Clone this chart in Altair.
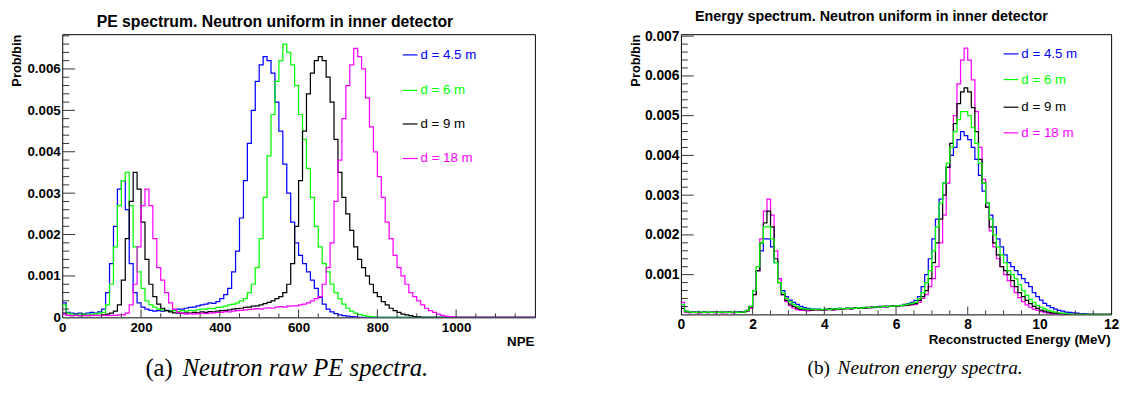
import altair as alt
import pandas as pd

LABELS = ["d = 4.5 m", "d = 6 m", "d = 9 m", "d = 18 m"]
COLORS = ["#0000ff", "#00ff00", "#000000", "#ff00ff"]

# ---------------- panel (a): PE spectrum, bins of 10 NPE starting at 0 ----------------
NPE_STEP = 10
NPE_END = 1200
npe_45 = [
    0.00035, 0.00012, 0.0001, 0.00009, 0.0001, 0.00008, 0.0001, 0.00012, 0.0001, 0.00013,
    0.0002, 0.0006, 0.0013, 0.0022, 0.0031, 0.0033, 0.0026, 0.0013, 0.0006, 0.00035,
    0.00025, 0.0002, 0.00017, 0.00015, 0.00016, 0.00015, 0.00017, 0.00016, 0.00018, 0.0002,
    0.0002, 0.00022, 0.00024, 0.00025, 0.00028, 0.0003, 0.00032, 0.00035, 0.00034, 0.00038,
    0.00045, 0.00055, 0.0007, 0.0011, 0.0016, 0.0024, 0.0033, 0.0042, 0.005, 0.0057,
    0.0061, 0.0063, 0.0062, 0.0059, 0.0052, 0.0045, 0.0037, 0.003, 0.0023, 0.0018,
    0.0015, 0.0013, 0.0011, 0.0009, 0.0007, 0.00048, 0.00032, 0.0002, 0.00013, 0.00009,
    0.00006, 0.00004, 0.00003, 0.00002, 0.00001, 0, 0, 0, 0, 0,
    0, 0, 0, 0, 0, 0, 0, 0, 0, 0,
    0, 0, 0, 0, 0, 0, 0, 0, 0, 0,
    0, 0, 0, 0, 0, 0, 0, 0, 0, 0,
    0, 0, 0, 0, 0, 0, 0, 0, 0, 0,
]
npe_6 = [
    0.0003, 0.0001, 0.00008, 0.00007, 0.00008, 0.00007, 0.00008, 0.00008, 0.00009, 0.0001,
    0.00012, 0.0003, 0.0008, 0.0017, 0.0027, 0.0033, 0.0035, 0.0027, 0.0017, 0.0011,
    0.0007, 0.0004, 0.0003, 0.00025, 0.0002, 0.00018, 0.00016, 0.00015, 0.00016, 0.00014,
    0.00016, 0.00015, 0.00017, 0.00016, 0.00018, 0.0002, 0.0002, 0.00022, 0.00021, 0.00024,
    0.00025, 0.00027, 0.0003, 0.00032, 0.00035, 0.0004, 0.00045, 0.0006, 0.0008, 0.0012,
    0.0019, 0.0029, 0.0039, 0.0049, 0.0057, 0.0062, 0.0066, 0.0064, 0.0061, 0.0056,
    0.0049, 0.0043, 0.0036, 0.0029, 0.0022, 0.0017, 0.0013, 0.0011, 0.0008, 0.0006,
    0.00045, 0.00032, 0.00022, 0.00015, 0.0001, 0.00007, 0.00005, 0.00003, 0.00002, 0.00001,
    0, 0, 0, 0, 0, 0, 0, 0, 0, 0,
    0, 0, 0, 0, 0, 0, 0, 0, 0, 0,
    0, 0, 0, 0, 0, 0, 0, 0, 0, 0,
    0, 0, 0, 0, 0, 0, 0, 0, 0, 0,
]
npe_9 = [
    0.0001, 0.00005, 0.00004, 0.00005, 0.00004, 0.00005, 0.00004, 0.00005, 0.00005, 0.00005,
    0.00006, 0.00008, 0.0001, 0.00015, 0.0003, 0.0009, 0.0019, 0.0028, 0.0035, 0.0031,
    0.0023, 0.0014, 0.0008, 0.0005, 0.00032, 0.00022, 0.00016, 0.00013, 0.00011, 0.0001,
    0.0001, 0.00011, 0.0001, 0.00012, 0.00011, 0.00013, 0.00012, 0.00014, 0.00013, 0.00015,
    0.00016, 0.00017, 0.00018, 0.0002, 0.00021, 0.00022, 0.00024, 0.00025, 0.00027, 0.00028,
    0.0003, 0.00033, 0.00036, 0.0004, 0.00045, 0.0005, 0.0006, 0.0008, 0.0013, 0.0022,
    0.0033, 0.0045, 0.0054, 0.0059, 0.0062, 0.0063, 0.0062, 0.0058, 0.0052, 0.0043,
    0.0035, 0.0029, 0.0025, 0.0021, 0.0017, 0.0014, 0.0012, 0.001, 0.0008, 0.0006,
    0.0005, 0.00038, 0.0003, 0.00022, 0.00016, 0.00012, 0.00008, 0.00006, 0.00004, 0.00002,
    0.00001, 0, 0, 0, 0, 0, 0, 0, 0, 0,
    0, 0, 0, 0, 0, 0, 0, 0, 0, 0,
    0, 0, 0, 0, 0, 0, 0, 0, 0, 0,
]
npe_18 = [
    0.00008, 0.00005, 0.00004, 0.00005, 0.00004, 0.00004, 0.00005, 0.00004, 0.00005, 0.00004,
    0.00005, 0.00004, 0.00005, 0.00005, 0.00006, 0.00006, 0.0001, 0.0003, 0.0008, 0.0017,
    0.0027, 0.0031, 0.0027, 0.0019, 0.0012, 0.0009, 0.0006, 0.00035, 0.0002, 0.00012,
    0.0001, 0.00008, 0.00009, 0.00008, 0.00009, 0.0001, 0.00009, 0.0001, 0.00011, 0.00012,
    0.00012, 0.00014, 0.00013, 0.00015, 0.00016, 0.00017, 0.00018, 0.00019, 0.0002, 0.00021,
    0.0002, 0.00022, 0.00023, 0.00022, 0.00025, 0.00026, 0.00025, 0.00027, 0.00028, 0.00028,
    0.0003, 0.00032, 0.00035, 0.0004, 0.00045, 0.0005, 0.0008, 0.0012, 0.0018, 0.0028,
    0.0038, 0.0048, 0.0056, 0.0061, 0.0065, 0.0063, 0.006, 0.0053, 0.0046, 0.004,
    0.0034, 0.0029, 0.0023, 0.0019, 0.0015, 0.0012, 0.001, 0.0008, 0.0006, 0.0005,
    0.0004, 0.0003, 0.00022, 0.00016, 0.00012, 0.00008, 0.00005, 0.00003, 0.00002, 0.00001,
    0, 0, 0, 0, 0, 0, 0, 0, 0, 0,
    0, 0, 0, 0, 0, 0, 0, 0, 0, 0,
]
npe_x_labels = [0, 200, 400, 600, 800, 1000]
npe_x_minor = [50, 100, 150, 250, 300, 350, 450, 500, 550, 650, 700, 750,
               850, 900, 950, 1050, 1100, 1150]
npe_y_labels = [0, 0.001, 0.002, 0.003, 0.004, 0.005, 0.006]
npe_y_minor = [0.0002, 0.0004, 0.0006, 0.0008, 0.0012, 0.0014, 0.0016, 0.0018,
               0.0022, 0.0024, 0.0026, 0.0028, 0.0032, 0.0034, 0.0036, 0.0038,
               0.0042, 0.0044, 0.0046, 0.0048, 0.0052, 0.0054, 0.0056, 0.0058,
               0.0062, 0.0064, 0.0066, 0.0068]

# ---------------- panel (b): energy spectrum, bins of 0.1 MeV starting at 0 ----------------
E_STEP = 0.1
E_END = 12
e_45 = [
    0.0002, 0.00008, 0.00006, 0.00005, 0.00006, 0.00005, 0.00006, 0.00005, 0.00006, 0.00005,
    0.00006, 0.00005, 0.00006, 0.00006, 0.00005, 0.00006, 0.00007, 0.00006, 0.0001, 0.0002,
    0.0006, 0.0011, 0.0016, 0.0019, 0.0019, 0.0017, 0.0013, 0.0009, 0.0006, 0.00045,
    0.00036, 0.0003, 0.00025, 0.0002, 0.00017, 0.00015, 0.00014, 0.00013, 0.00013, 0.00012,
    0.00013, 0.00014, 0.00013, 0.00014, 0.00015, 0.00014, 0.00016, 0.00015, 0.00016, 0.00017,
    0.00017, 0.00018, 0.00017, 0.00019, 0.00018, 0.0002, 0.00019, 0.00021, 0.0002, 0.00022,
    0.00022, 0.00023, 0.00025, 0.00027, 0.0003, 0.00035, 0.00045, 0.0007, 0.001, 0.0014,
    0.0019, 0.0024, 0.0029, 0.0033, 0.0037, 0.004, 0.0042, 0.0044, 0.0046, 0.0045,
    0.0044, 0.0042, 0.0039, 0.0035, 0.0031, 0.0028, 0.0025, 0.0022, 0.0019, 0.0017,
    0.0015, 0.0013, 0.0012, 0.0011, 0.001, 0.0009, 0.0008, 0.0007, 0.00055, 0.00045,
    0.00036, 0.00028, 0.00022, 0.00017, 0.00013, 0.0001, 0.00008, 0.00006, 0.00005, 0.00004,
    0.00003, 0.00002, 0.00002, 0.00001, 0, 0, 0, 0, 0, 0,
]
e_6 = [
    0.00025, 0.00008, 0.00006, 0.00005, 0.00005, 0.00006, 0.00005, 0.00006, 0.00005, 0.00005,
    0.00005, 0.00006, 0.00005, 0.00005, 0.00006, 0.00005, 0.00006, 0.00006, 0.0001, 0.0002,
    0.0006, 0.0012, 0.0018, 0.0022, 0.0022, 0.0019, 0.0013, 0.0008, 0.00055, 0.0004,
    0.00032, 0.00025, 0.0002, 0.00016, 0.00014, 0.00013, 0.00013, 0.00012, 0.00013, 0.00012,
    0.00013, 0.00012, 0.00014, 0.00013, 0.00015, 0.00014, 0.00015, 0.00016, 0.00015, 0.00017,
    0.00016, 0.00018, 0.00017, 0.00018, 0.00019, 0.00018, 0.0002, 0.0002, 0.00021, 0.00021,
    0.00022, 0.00022, 0.00024, 0.00026, 0.00028, 0.0003, 0.0004, 0.00055, 0.0008, 0.0011,
    0.0016, 0.0022, 0.0028, 0.0033, 0.0038, 0.0042, 0.0046, 0.0049, 0.0051, 0.0051,
    0.005, 0.0047, 0.0043, 0.0038, 0.0033, 0.0028, 0.0024, 0.002, 0.0017, 0.0015,
    0.0013, 0.0011, 0.001, 0.0009, 0.00075, 0.0006, 0.00048, 0.00038, 0.0003, 0.00023,
    0.00018, 0.00014, 0.0001, 0.00008, 0.00006, 0.00004, 0.00003, 0.00002, 0.00001, 0,
    0, 0, 0, 0, 0, 0, 0, 0, 0, 0,
]
e_9 = [
    0.00015, 0.00007, 0.00005, 0.00006, 0.00005, 0.00005, 0.00006, 0.00005, 0.00005, 0.00006,
    0.00005, 0.00006, 0.00005, 0.00006, 0.00005, 0.00005, 0.00006, 0.00005, 0.00009, 0.00018,
    0.0005, 0.0011, 0.0018, 0.0023, 0.0026, 0.0022, 0.0014, 0.0008, 0.0005, 0.00035,
    0.00026, 0.0002, 0.00016, 0.00013, 0.00012, 0.00012, 0.00011, 0.00012, 0.00012, 0.00011,
    0.00012, 0.00013, 0.00012, 0.00013, 0.00014, 0.00014, 0.00015, 0.00014, 0.00016, 0.00016,
    0.00017, 0.00016, 0.00018, 0.00017, 0.00019, 0.00018, 0.0002, 0.00019, 0.0002, 0.00021,
    0.00021, 0.00022, 0.00023, 0.00024, 0.00026, 0.00028, 0.00035, 0.00045, 0.0006, 0.0009,
    0.0013, 0.0018, 0.0024, 0.003, 0.0037, 0.0043, 0.0048, 0.0053, 0.0056, 0.0057,
    0.0056, 0.0052, 0.0046, 0.0039, 0.0033, 0.0027, 0.0022, 0.0018, 0.0015, 0.0012,
    0.0011, 0.001, 0.00085, 0.0007, 0.00055, 0.00045, 0.00035, 0.00027, 0.0002, 0.00015,
    0.00011, 0.00008, 0.00006, 0.00004, 0.00003, 0.00002, 0.00001, 0, 0, 0,
    0, 0, 0, 0, 0, 0, 0, 0, 0, 0,
]
e_18 = [
    0.0003, 0.00006, 0.00004, 0.00005, 0.00004, 0.00004, 0.00005, 0.00004, 0.00005, 0.00004,
    0.00005, 0.00004, 0.00004, 0.00005, 0.00004, 0.00005, 0.00005, 0.00005, 0.00008, 0.00015,
    0.0005, 0.0011, 0.0019, 0.0026, 0.0029, 0.0025, 0.0016, 0.0009, 0.0005, 0.00032,
    0.00022, 0.00016, 0.00012, 0.0001, 0.0001, 0.00009, 0.0001, 0.0001, 0.00011, 0.0001,
    0.00011, 0.00012, 0.00011, 0.00012, 0.00013, 0.00013, 0.00014, 0.00014, 0.00015, 0.00016,
    0.00016, 0.00017, 0.00016, 0.00018, 0.00018, 0.00019, 0.00019, 0.0002, 0.0002, 0.00021,
    0.00021, 0.00022, 0.00022, 0.00023, 0.00024, 0.00025, 0.0003, 0.0004, 0.0005, 0.0007,
    0.0009, 0.0012, 0.0018, 0.0025, 0.0033, 0.0042, 0.005, 0.0058, 0.0064, 0.0067,
    0.0064, 0.0059, 0.0051, 0.0042, 0.0034, 0.0027, 0.0021, 0.0017, 0.0014, 0.0012,
    0.001, 0.00085, 0.0007, 0.00055, 0.00042, 0.00032, 0.00024, 0.00018, 0.00013, 0.0001,
    0.00007, 0.00005, 0.00003, 0.00002, 0.00001, 0, 0, 0, 0, 0,
    0, 0, 0, 0, 0, 0, 0, 0, 0, 0,
]
e_x_labels = [0, 2, 4, 6, 8, 10, 12]
e_x_minor = [0.5, 1, 1.5, 2.5, 3, 3.5, 4.5, 5, 5.5, 6.5, 7, 7.5, 8.5, 9, 9.5, 10.5, 11, 11.5]
e_y_labels = [0.001, 0.002, 0.003, 0.004, 0.005, 0.006, 0.007]
e_y_minor = [0.0002, 0.0004, 0.0006, 0.0008, 0.0012, 0.0014, 0.0016, 0.0018,
             0.0022, 0.0024, 0.0026, 0.0028, 0.0032, 0.0034, 0.0036, 0.0038,
             0.0042, 0.0044, 0.0046, 0.0048, 0.0052, 0.0054, 0.0056, 0.0058,
             0.0062, 0.0064, 0.0066, 0.0068]

SANS = "Liberation Sans"
SERIF = "Liberation Serif"
ONE = pd.DataFrame({"k": [0]})


def hist_frame(vals, step, end):
    rows = [{"x": round(i * step, 6), "y": v} for i, v in enumerate(vals)]
    rows.append({"x": end, "y": vals[-1]})
    return pd.DataFrame(rows)


def panel(series, order, step, end, xdom, ydom, W, H, xlab, xminor, ylab, yminor,
          xtitle, ylab_expr, title, title_size, title_dx, title_offset,
          leg_x0, leg_y, cap_letter, cap_text, cap_x, cap_size, cap_y, font_tick):
    xs = alt.Scale(domain=xdom, nice=False, zero=False)
    ys = alt.Scale(domain=ydom, nice=False, zero=False)
    xaxis = alt.Axis(values=xlab, ticks=False, domain=False, grid=False, format="d",
                     labelFont=SANS, labelFontWeight="bold", labelFontSize=font_tick,
                     labelColor="black", labelPadding=3, labelFlush=False, labelOverlap=False,
                     title=xtitle, titleFont=SANS, titleFontWeight="bold", titleFontSize=13.5,
                     titleColor="black", titleX=W - 1, titleY=25, titleAlign="right",
                     titleBaseline="middle", titleAngle=0)
    yaxis = alt.Axis(values=ylab, ticks=False, domain=False, grid=False,
                     labelExpr=ylab_expr, labelFont=SANS, labelFontWeight="bold",
                     labelFontSize=font_tick, labelColor="black", labelPadding=2,
                     labelOverlap=False, labelFlush=False,
                     title="Prob/bin", titleFont=SANS, titleFontWeight="bold", titleFontSize=13,
                     titleColor="black", titleX=-46, titleY=0, titleAngle=270,
                     titleAlign="right", titleBaseline="middle")
    X = alt.X("x:Q", scale=xs, axis=xaxis)
    Y = alt.Y("y:Q", scale=ys, axis=yaxis)
    layers = []
    for idx in order:
        df = hist_frame(series[idx], step, end)
        layers.append(
            alt.Chart(df).mark_line(interpolate="step-after", strokeWidth=1.25,
                                    color=COLORS[idx], clip=True).encode(x=X, y=Y)
        )
    # inward ROOT-style ticks (positions through the shared scales)
    tick_col = "#333333"
    layers.append(alt.Chart(pd.DataFrame({"x": [v for v in xlab if 0 < v < xdom[1]]}))
                  .mark_rule(color=tick_col).encode(x=X, y=alt.value(H), y2=alt.value(H - 8)))
    layers.append(alt.Chart(pd.DataFrame({"x": xminor}))
                  .mark_rule(color=tick_col).encode(x=X, y=alt.value(H), y2=alt.value(H - 4)))
    layers.append(alt.Chart(pd.DataFrame({"y": [v for v in ylab if v > 0]}))
                  .mark_rule(color=tick_col).encode(y=Y, x=alt.value(0), x2=alt.value(13)))
    layers.append(alt.Chart(pd.DataFrame({"y": yminor}))
                  .mark_rule(color=tick_col).encode(y=Y, x=alt.value(0), x2=alt.value(7)))
    # legend
    for i, lab in enumerate(LABELS):
        layers.append(alt.Chart(ONE).mark_rule(color=COLORS[i], strokeWidth=1.2).encode(
            x=alt.value(leg_x0), x2=alt.value(leg_x0 + 15), y=alt.value(leg_y[i])))
        layers.append(alt.Chart(ONE).mark_text(align="left", baseline="middle", font=SANS,
                                               fontSize=13.5, color=COLORS[i]).encode(
            x=alt.value(leg_x0 + 18), y=alt.value(leg_y[i]), text=alt.value(lab)))
    # caption below the panel
    layers.append(alt.Chart(ONE).mark_text(align="right", baseline="alphabetic", font=SERIF,
                                           fontSize=cap_size, color="black").encode(
        x=alt.value(cap_x), y=alt.value(cap_y), text=alt.value(cap_letter)))
    layers.append(alt.Chart(ONE).mark_text(align="left", baseline="alphabetic", font=SERIF,
                                           fontSize=cap_size, fontStyle="italic",
                                           color="black").encode(
        x=alt.value(cap_x + 0.4 * cap_size), y=alt.value(cap_y), text=alt.value(cap_text)))
    return alt.layer(*layers).properties(
        width=W, height=H,
        title=alt.TitleParams(title, font=SANS, fontSize=title_size, fontWeight="bold",
                              color="black", anchor="middle", frame="group", dx=title_dx,
                              baseline="alphabetic", offset=title_offset),
    )


left = panel([npe_45, npe_6, npe_9, npe_18], [0, 1, 2, 3], NPE_STEP, NPE_END,
             [0, 1200], [0, 0.00684], 479, 287, npe_x_labels, npe_x_minor,
             npe_y_labels, npe_y_minor, "NPE",
             "datum.value == 0 ? '0' : format(datum.value, '.3f')",
             "PE spectrum. Neutron uniform in inner detector", 16, -24, -9,
             345, [21, 57, 91, 126], "(a)", "Neutron raw PE spectra.", 112, 25, 346, 13.5)

right = panel([e_45, e_6, e_9, e_18], [0, 3, 2, 1], E_STEP, E_END,
              [0, 12], [0, 0.00705], 436, 284, e_x_labels, e_x_minor,
              e_y_labels, e_y_minor, "Reconstructed Energy (MeV)",
              "format(datum.value, '.3f')",
              "Energy spectrum. Neutron uniform in inner detector", 14.5, -25, -6,
              327, [20, 46, 74, 100], "(b)", "Neutron energy spectra.", 151, 19.5, 344, 14)

chart = alt.hconcat(left, right, spacing=94).properties(
    padding={"left": 2, "top": -2, "right": 0, "bottom": 0},
    background="white",
).configure_view(stroke="black", strokeWidth=1)

chart.save("out.html", embed_options={"renderer": "svg", "actions": False})
